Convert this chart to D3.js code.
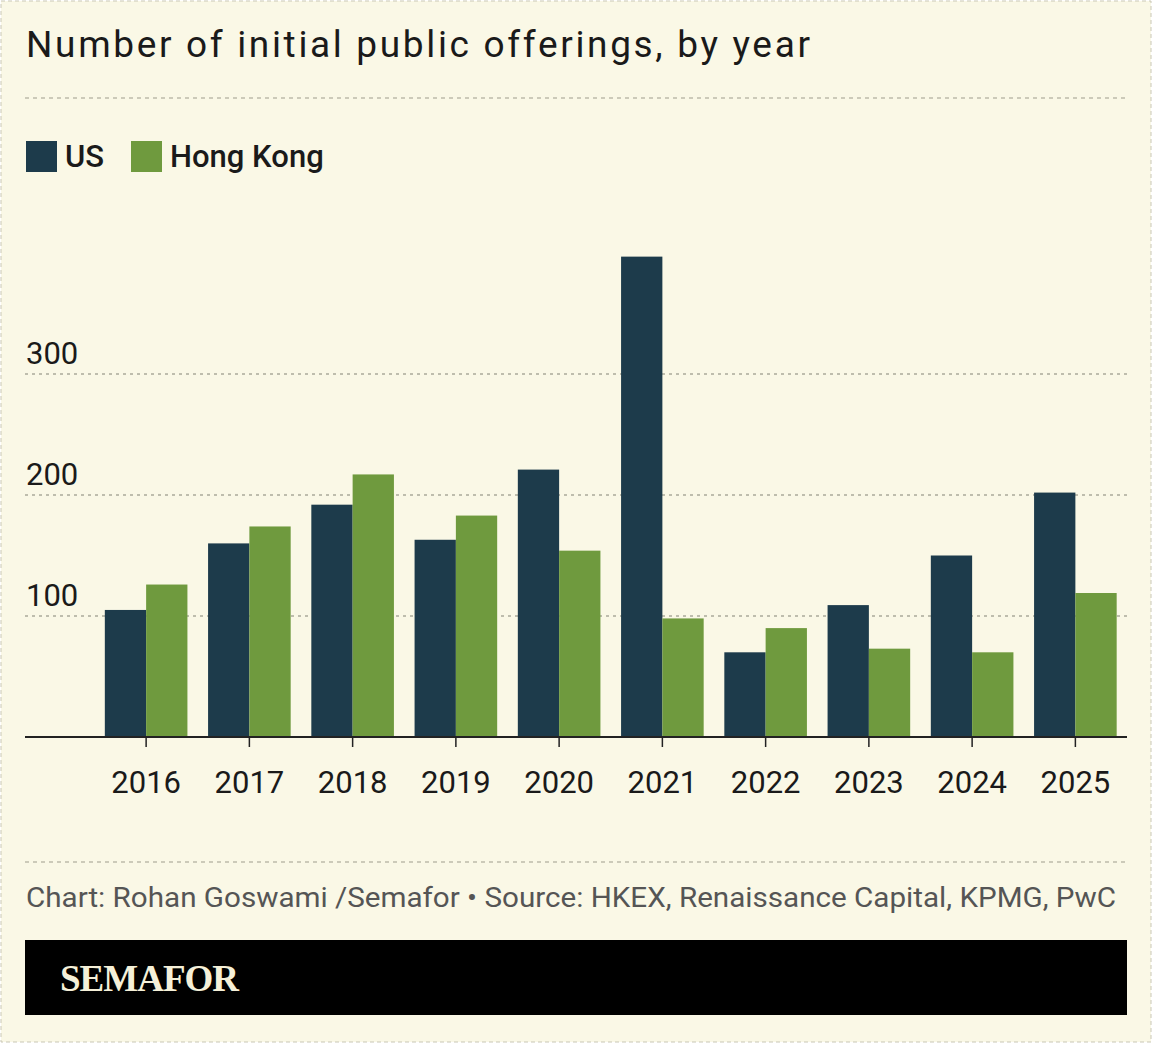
<!DOCTYPE html>
<html><head><meta charset="utf-8">
<script src="https://cdn.jsdelivr.net/npm/d3@7"></script>
<style>
body{margin:0;background:#fff;}
svg{display:block;}
</style></head>
<body>
<svg id="chart" width="1152" height="1043"></svg>
<script>
var years = ['2016','2017','2018','2019','2020','2021','2022','2023','2024','2025'];
var usIpos = [105, 160, 192, 163, 221, 397, 70, 109, 150, 202];
var hkIpos = [126, 174, 217, 183, 154, 98, 90, 73, 70, 119];
var yTicks = [100, 200, 300];
var seriesNames = ['US', 'Hong Kong'];
var seriesColors = ['#1d3b4b', '#6f9a3e'];

var svg = d3.select('#chart');
var font = 'Roboto, "Liberation Sans", sans-serif';

svg.append('rect').attr('x', 1).attr('y', 1).attr('width', 1150).attr('height', 1041)
  .attr('fill', '#faf8e6').attr('stroke', '#c9c7b5').attr('stroke-dasharray', '4,3');

svg.append('text').attr('x', 26).attr('y', 57).text('Number of initial public offerings, by year')
  .attr('font-family', font).attr('font-size', 37).attr('fill', '#1a1a1a')
  .attr('textLength', 784).attr('lengthAdjust', 'spacing');

function dashLine(y) {
  svg.append('line').attr('x1', 25).attr('x2', 1127).attr('y1', y).attr('y2', y)
    .attr('stroke', '#bdbbab').attr('stroke-dasharray', '4,4').attr('stroke-width', 1.5);
}
dashLine(98);
dashLine(862);

// legend
var lg = svg.append('g');
var lx = [26, 131];
seriesNames.forEach(function(n, i) {
  lg.append('rect').attr('x', lx[i]).attr('y', 141).attr('width', 31).attr('height', 31).attr('fill', seriesColors[i]);
  lg.append('text').attr('x', lx[i] + 39).attr('y', 167).text(n)
    .attr('font-family', font).attr('font-size', 31).attr('font-weight', 500).attr('fill', '#1a1a1a');
});

var x = d3.scaleBand().domain(years).range([94.5, 1127]).paddingInner(0.2).paddingOuter(0.1);
var sub = d3.scaleBand().domain(seriesNames).range([0, x.bandwidth()]);
var y = d3.scaleLinear().domain([0, 300]).range([737, 374]);

yTicks.forEach(function(t) {
  svg.append('line').attr('x1', 25).attr('x2', 1127).attr('y1', y(t)).attr('y2', y(t))
    .attr('stroke', '#aaa99a').attr('stroke-dasharray', '3,4').attr('stroke-width', 1.5);
  svg.append('text').attr('x', 26).attr('y', y(t) - 10).text(t)
    .attr('font-family', font).attr('font-size', 31).attr('fill', '#1a1a1a');
});

var groups = svg.selectAll('.yr').data(years).enter().append('g')
  .attr('transform', function(d) { return 'translate(' + x(d) + ',0)'; });
groups.append('rect').attr('x', sub('US')).attr('width', sub.bandwidth())
  .attr('y', function(d, i) { return y(usIpos[i]); })
  .attr('height', function(d, i) { return y(0) - y(usIpos[i]); })
  .attr('fill', seriesColors[0]);
groups.append('rect').attr('x', sub('Hong Kong')).attr('width', sub.bandwidth())
  .attr('y', function(d, i) { return y(hkIpos[i]); })
  .attr('height', function(d, i) { return y(0) - y(hkIpos[i]); })
  .attr('fill', seriesColors[1]);

var xAxis = svg.append('g').attr('transform', 'translate(0,737)')
  .call(d3.axisBottom(x).tickSize(10).tickPadding(24));
xAxis.select('.domain').remove();
xAxis.selectAll('.tick line').attr('stroke', '#222').attr('stroke-width', 1.5);
xAxis.selectAll('text').attr('font-family', font).attr('font-size', 31).attr('fill', '#1a1a1a');
svg.append('line').attr('x1', 25).attr('x2', 1127).attr('y1', 737).attr('y2', 737)
  .attr('stroke', '#222').attr('stroke-width', 2);

svg.append('text').attr('x', 26).attr('y', 907)
  .text('Chart: Rohan Goswami /Semafor \u2022 Source: HKEX, Renaissance Capital, KPMG, PwC')
  .attr('font-family', font).attr('font-size', 28).attr('fill', '#555')
  .attr('textLength', 1090).attr('lengthAdjust', 'spacingAndGlyphs');

svg.append('rect').attr('x', 25).attr('y', 940).attr('width', 1102).attr('height', 75).attr('fill', '#000');
svg.append('text').attr('x', 60).attr('y', 991).text('SEMAFOR')
  .attr('font-family', '"Liberation Serif", "DejaVu Serif", serif').attr('font-weight', 'bold')
  .attr('font-size', 37).attr('fill', '#f5f0d8').attr('letter-spacing', -1);
</script>
</body></html>
